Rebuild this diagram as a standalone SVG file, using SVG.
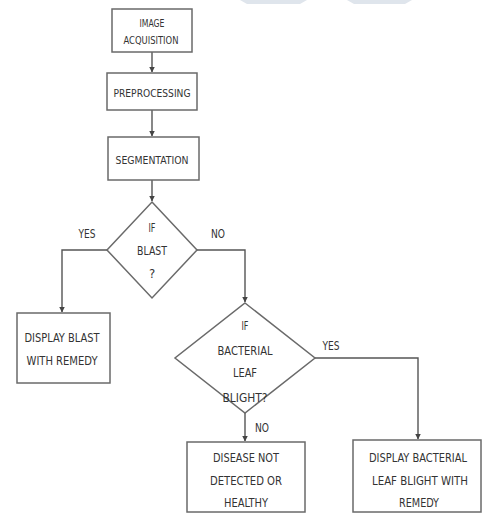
<svg xmlns="http://www.w3.org/2000/svg" width="483" height="515" viewBox="0 0 483 515">
<style>
.box{fill:#fff;stroke:#6a6a6a;stroke-width:1.5}
.ln{fill:none;stroke:#555;stroke-width:1.4}
text{font-family:"DejaVu Sans Condensed","Liberation Sans",sans-serif;fill:#333;text-anchor:middle;dominant-baseline:central}
.s{font-size:10px}
.m{font-size:13px}
</style>
<defs>
<marker id="ah" viewBox="0 0 6 6" refX="5.5" refY="3" markerWidth="4" markerHeight="4" orient="auto">
<path d="M0,0L6,3L0,6z" fill="#444"/>
</marker>
</defs>
<rect width="483" height="515" fill="#fff"/>
<polygon points="240,0 307,0 300,4 247,4" fill="#dfe5ec"/>
<polygon points="347,0 412,0 405,4 354,4" fill="#dfe5ec"/>
<g id="connectors">
<path class="ln" d="M152,52V72" marker-end="url(#ah)"/>
<path class="ln" d="M152,110V136" marker-end="url(#ah)"/>
<path class="ln" d="M152,180V201" marker-end="url(#ah)"/>
<path class="ln" d="M107,250H62V312" marker-end="url(#ah)"/>
<path class="ln" d="M197,250H245V302" marker-end="url(#ah)"/>
<path class="ln" d="M315,358H418V439" marker-end="url(#ah)"/>
<path class="ln" d="M245,413V441" marker-end="url(#ah)"/>
<text class="m" x="87" y="233" textLength="17" lengthAdjust="spacingAndGlyphs">YES</text>
<text class="m" x="218" y="233" textLength="14" lengthAdjust="spacingAndGlyphs">NO</text>
<text class="m" x="331" y="345" textLength="17" lengthAdjust="spacingAndGlyphs">YES</text>
<text class="m" x="262" y="427" textLength="14" lengthAdjust="spacingAndGlyphs">NO</text>
</g>
<g id="image-acquisition">
<rect class="box" x="112" y="9" width="80" height="43"/>
<text class="s" x="152" y="23" textLength="25" lengthAdjust="spacingAndGlyphs">IMAGE</text>
<text class="s" x="151" y="40" textLength="55" lengthAdjust="spacingAndGlyphs">ACQUISITION</text>
</g>
<g id="preprocessing">
<rect class="box" x="107" y="73" width="90" height="37"/>
<text class="s" x="152" y="93" textLength="77" lengthAdjust="spacingAndGlyphs">PREPROCESSING</text>
</g>
<g id="segmentation">
<rect class="box" x="108" y="137" width="91" height="43"/>
<text class="s" x="152" y="160" textLength="73" lengthAdjust="spacingAndGlyphs">SEGMENTATION</text>
</g>
<g id="if-blast">
<polygon class="box" points="152,202 197,250 152,298 107,250"/>
<text class="m" x="152" y="227" textLength="7" lengthAdjust="spacingAndGlyphs">IF</text>
<text class="m" x="152" y="250" textLength="30" lengthAdjust="spacingAndGlyphs">BLAST</text>
<text class="m" x="152" y="273">?</text>
</g>
<g id="display-blast">
<rect class="box" x="17" y="313" width="93" height="70"/>
<text class="m" x="62" y="337" textLength="75" lengthAdjust="spacingAndGlyphs">DISPLAY BLAST</text>
<text class="m" x="62" y="360" textLength="71" lengthAdjust="spacingAndGlyphs">WITH REMEDY</text>
</g>
<g id="if-blb">
<polygon class="box" points="245,303 315,358 245,413 175,358"/>
<text class="m" x="245" y="325" textLength="7" lengthAdjust="spacingAndGlyphs">IF</text>
<text class="m" x="245" y="350" textLength="55" lengthAdjust="spacingAndGlyphs">BACTERIAL</text>
<text class="m" x="245" y="372" textLength="24" lengthAdjust="spacingAndGlyphs">LEAF</text>
<text class="m" x="245" y="397" textLength="45" lengthAdjust="spacingAndGlyphs">BLIGHT?</text>
</g>
<g id="not-detected">
<rect class="box" x="187" y="442" width="118" height="70"/>
<text class="m" x="246" y="457" textLength="66" lengthAdjust="spacingAndGlyphs">DISEASE NOT</text>
<text class="m" x="246" y="480" textLength="72" lengthAdjust="spacingAndGlyphs">DETECTED  OR</text>
<text class="m" x="246" y="502" textLength="44" lengthAdjust="spacingAndGlyphs">HEALTHY</text>
</g>
<g id="display-blb">
<rect class="box" x="353" y="440" width="128" height="72"/>
<text class="m" x="418" y="457" textLength="98" lengthAdjust="spacingAndGlyphs">DISPLAY BACTERIAL</text>
<text class="m" x="420" y="480" textLength="96" lengthAdjust="spacingAndGlyphs">LEAF BLIGHT WITH</text>
<text class="m" x="419" y="502" textLength="40" lengthAdjust="spacingAndGlyphs">REMEDY</text>
</g>
</svg>
